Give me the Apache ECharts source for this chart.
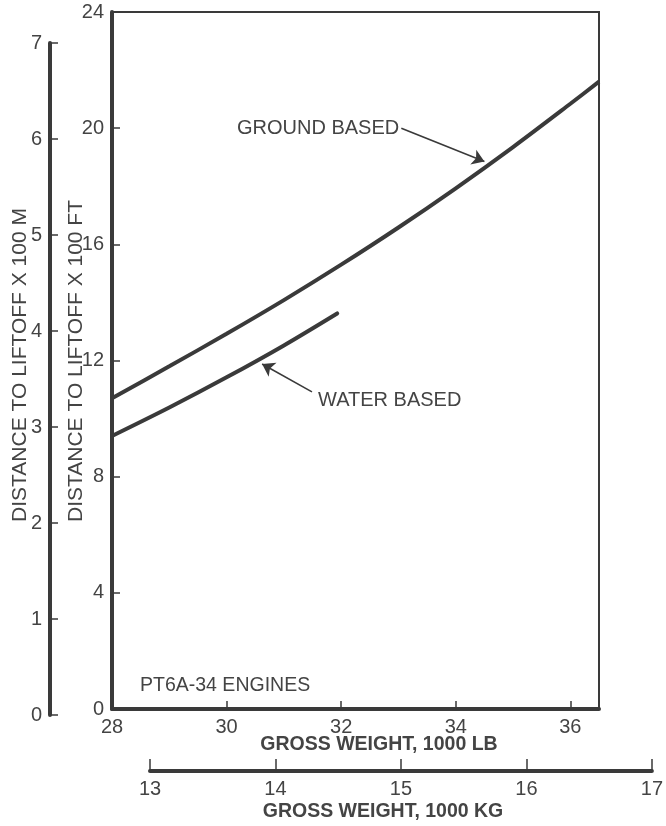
<!DOCTYPE html>
<html><head><meta charset="utf-8">
<script src="https://cdn.jsdelivr.net/npm/echarts@6/dist/echarts.min.js"></script>
<style>html,body{margin:0;padding:0;background:#fff}#c{width:666px;height:826px}</style>
</head><body><div id="c"></div>
<script>
// ---- data ----
const lbTicks = [28, 30, 32, 34, 36];
const ftTicks = [0, 4, 8, 12, 16, 20, 24];
const mTicks = [0, 1, 2, 3, 4, 5, 6, 7];
const kgTicks = [13, 14, 15, 16, 17];
const groundWeight = [28, 29, 30, 31, 32, 33, 34, 35, 36, 36.5];
const groundDist   = [10.7, 11.8, 12.92, 14.08, 15.3, 16.58, 17.93, 19.35, 20.84, 21.6];
const waterWeight  = [28, 29, 30, 31, 31.93];
const waterDist    = [9.4, 10.38, 11.42, 12.52, 13.62];
const groundArrow = [[33.05, 20.0], [34.5, 18.85]];
const waterArrow  = [[31.49, 10.92], [30.62, 11.88]];

// ---- style ----
const INK = '#3a3a3a';
const TXT = '#444';
const FONT = '"Liberation Sans", Arial, Helvetica, sans-serif';

const chart = echarts.init(document.getElementById('c'), null, {renderer: 'canvas'});
const pairs = (xs, ys) => xs.map((x, i) => [x, ys[i]]);

const arrowML = (a) => ({
  silent: true, symbol: ['none', 'arrow'], symbolSize: 12,
  lineStyle: {color: INK, width: 1.6, type: 'solid'},
  itemStyle: {color: INK},
  label: {show: false},
  emphasis: {disabled: true},
  data: [[{coord: a[0]}, {coord: a[1]}]]
});

chart.setOption({
  animation: false,
  backgroundColor: '#fff',
  textStyle: {fontFamily: FONT},
  grid: [
    {left: 112, top: 12, width: 487, height: 697, show: true, borderColor: INK, borderWidth: 2, backgroundColor: 'transparent'},
    {left: 50, top: 43, width: 2, height: 672},
    {left: 150, top: 760, width: 507, height: 11}
  ],
  xAxis: [
    {gridIndex: 0, type: 'value', min: 28, max: 36.5, interval: 2,
     axisLine: {lineStyle: {color: INK, width: 4}},
     axisTick: {inside: true, length: 8, lineStyle: {color: INK, width: 1.5}, customValues: lbTicks},
     axisLabel: {color: TXT, fontSize: 20, margin: 8, customValues: lbTicks, fontFamily: FONT},
     splitLine: {show: false}},
    {gridIndex: 1, type: 'value', show: false},
    {gridIndex: 2, type: 'value', min: 13, max: 17, interval: 1, position: 'bottom',
     axisLine: {lineStyle: {color: INK, width: 4}},
     axisTick: {inside: true, length: 12, lineStyle: {color: INK, width: 1.5}, customValues: kgTicks},
     axisLabel: {color: TXT, fontSize: 20, margin: 8, customValues: kgTicks, fontFamily: FONT},
     splitLine: {show: false}}
  ],
  yAxis: [
    {gridIndex: 0, type: 'value', min: 0, max: 24, interval: 4,
     axisLine: {show: true, lineStyle: {color: INK, width: 4}},
     axisTick: {show: true, inside: true, length: 8, lineStyle: {color: INK, width: 1.5}, customValues: ftTicks},
     axisLabel: {color: TXT, fontSize: 20, margin: 8, customValues: ftTicks, fontFamily: FONT},
     splitLine: {show: false}},
    {gridIndex: 1, type: 'value', min: 0, max: 7, interval: 1,
     axisLine: {show: true, lineStyle: {color: INK, width: 4}},
     axisTick: {show: true, inside: true, length: 8, lineStyle: {color: INK, width: 1.5}, customValues: mTicks},
     axisLabel: {color: TXT, fontSize: 20, margin: 8, customValues: mTicks, fontFamily: FONT},
     splitLine: {show: false}},
    {gridIndex: 2, type: 'value', show: false}
  ],
  series: [
    {name: 'GROUND BASED', type: 'line', xAxisIndex: 0, yAxisIndex: 0, smooth: 0.3,
     symbol: 'none', lineStyle: {color: INK, width: 4}, data: pairs(groundWeight, groundDist),
     markLine: arrowML(groundArrow)},
    {name: 'WATER BASED', type: 'line', xAxisIndex: 0, yAxisIndex: 0, smooth: 0.3,
     symbol: 'none', lineStyle: {color: INK, width: 4, cap: 'round'}, data: pairs(waterWeight, waterDist),
     markLine: arrowML(waterArrow)}
  ],
  graphic: [
    {type: 'text', x: 237, y: 128, style: {text: 'GROUND BASED', fill: TXT, font: '20px ' + FONT, textVerticalAlign: 'middle'}},
    {type: 'text', x: 318, y: 400, style: {text: 'WATER BASED', fill: TXT, font: '20px ' + FONT, textVerticalAlign: 'middle'}},
    {type: 'text', x: 140, y: 686, style: {text: 'PT6A-34 ENGINES', fill: TXT, font: '19.5px ' + FONT, textVerticalAlign: 'middle'}},
    {type: 'text', x: 379, y: 745, style: {text: 'GROSS WEIGHT, 1000 LB', fill: TXT, font: 'bold 19.5px ' + FONT, textAlign: 'center', textVerticalAlign: 'middle'}},
    {type: 'text', x: 383, y: 812, style: {text: 'GROSS WEIGHT, 1000 KG', fill: TXT, font: 'bold 19.5px ' + FONT, textAlign: 'center', textVerticalAlign: 'middle'}},
    {type: 'text', x: 20, y: 365, rotation: Math.PI / 2, style: {text: 'DISTANCE TO LIFTOFF X 100 M', fill: TXT, font: '21px ' + FONT, textAlign: 'center', textVerticalAlign: 'middle'}},
    {type: 'text', x: 76, y: 361, rotation: Math.PI / 2, style: {text: 'DISTANCE TO LIFTOFF X 100 FT', fill: TXT, font: '21px ' + FONT, textAlign: 'center', textVerticalAlign: 'middle'}}
  ]
});
</script></body></html>
